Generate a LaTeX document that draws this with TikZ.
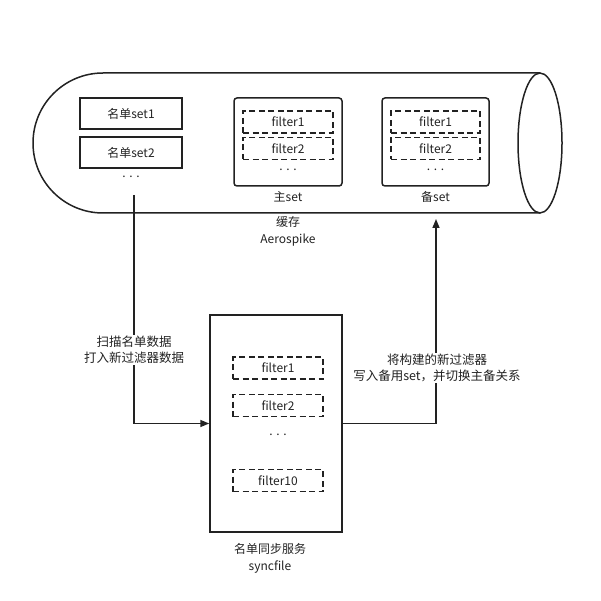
\documentclass[tikz,border=0pt]{standalone}
\usepackage{fontspec}
\setmainfont{Noto Sans CJK SC}
\usetikzlibrary{arrows.meta}
\definecolor{ink}{HTML}{222222}
\tikzset{
  solidbox/.style={draw=ink, line width=1.5pt, minimum width=#1, inner sep=0pt},
  rbox/.style={draw=ink, line width=1.5pt, rounded corners=3pt, inner sep=0pt},
  dbox/.style={draw=ink, line width=1.5pt, dash pattern=on 6pt off 3.5pt, minimum width=90pt, minimum height=22pt, inner sep=0pt},
  txt/.style={text=ink, font=\fontsize{12}{15}\selectfont, inner sep=1pt},
  lbl/.style={text=ink, font=\fontsize{12.5}{16}\selectfont, align=center, fill=white, inner sep=1pt},
  arr/.style={draw=ink, line width=1.5pt, -{Triangle[length=9pt,width=7pt]}},
}
\begin{document}
\begin{tikzpicture}[x=1pt,y=-1pt]
\useasboundingbox (0,0) rectangle (601,601);
% cylinder
\draw[ink, line width=1.5pt] (540,73) -- (103,73) arc[start angle=270, end angle=90, x radius=70, y radius=70] -- (540,213);
\draw[ink, line width=1.5pt] (540,143) ellipse [x radius=22, y radius=70];
% name sets
\node[solidbox=102pt, minimum height=31pt, txt] (ns1) at (131,113.5) {名单set1};
\node[solidbox=102pt, minimum height=31pt, txt] (ns2) at (131,152.5) {名单set2};
\node[txt] (nsd) at (131,177) {. . .};
% main set
\node[rbox, minimum width=108pt, minimum height=88pt] (mset) at (288,142) {};
\node[dbox, txt] (mf1) at (288,122) {filter1};
\node[dbox, txt] (mf2) at (288,148.5) {filter2};
\node[txt] (mfd) at (288,170) {. . .};
\node[txt] (msl) at (288,197) {主set};
% backup set
\node[rbox, minimum width=107pt, minimum height=88pt] (bset) at (435.5,142) {};
\node[dbox, minimum width=89pt, txt] (bf1) at (435.5,122) {filter1};
\node[dbox, minimum width=89pt, txt] (bf2) at (435.5,148.5) {filter2};
\node[txt] (bfd) at (435.5,170) {. . .};
\node[txt] (bsl) at (435.5,197) {备set};
% cache label
\node[txt, align=center, font=\fontsize{12}{17}\selectfont] (cache) at (288,231) {缓存\\Aerospike};
% sync service
\node[solidbox=132pt, minimum height=217pt] (sync) at (276,423.5) {};
\node[dbox, txt] (sf1) at (278,368) {filter1};
\node[dbox, txt] (sf2) at (278,405.5) {filter2};
\node[txt] (sfd) at (278,435) {. . .};
\node[dbox, txt] (sf10) at (278,480.5) {filter10};
\node[txt, align=center, font=\fontsize{12}{17}\selectfont] (synclbl) at (270,558) {名单同步服务\\syncfile};
% connectors
\coordinate (a1) at (134,195);
\coordinate (a2) at (436,219);
\draw[arr] (a1) |- (sync.west);
\draw[arr] (sync.east) -| (a2);
\node[lbl] (l1) at (134,350) {扫描名单数据\\打入新过滤器数据};
\node[lbl] (l2) at (437,368) {将构建的新过滤器\\写入备用set，并切换主备关系};
\end{tikzpicture}
\end{document}
